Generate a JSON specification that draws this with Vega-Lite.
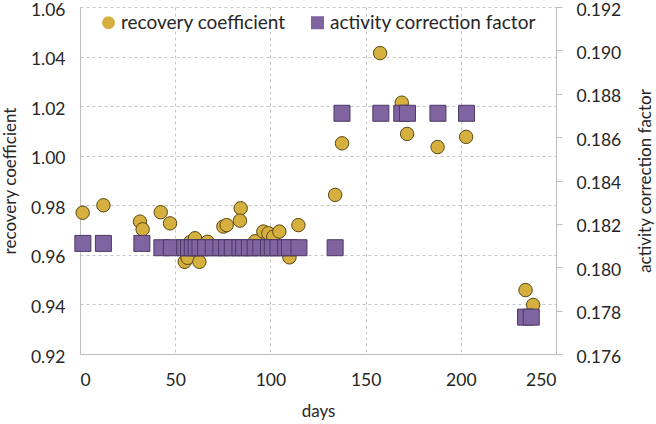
{
  "$schema": "https://vega.github.io/schema/vega-lite/v6.json",
  "width": 476,
  "height": 347,
  "autosize": "none",
  "padding": {"left": 80, "top": 7, "right": 100, "bottom": 70},
  "background": "white",
  "config": {
    "view": {"stroke": null},
    "font": "Lato",
    "axis": {
      "labelFont": "Lato",
      "titleFont": "Lato",
      "labelFontSize": 17.5,
      "titleFontSize": 17,
      "titleFontWeight": "normal",
      "labelColor": "#262626",
      "titleColor": "#262626",
      "domainColor": "#bdbdbd",
      "tickColor": "#bdbdbd",
      "gridColor": "#c4c4c4",
      "gridDash": [3, 3]
    }
  },
  "data": {
    "values": [
      {"day": 1.4, "series": "recovery coefficient", "value": 0.977},
      {"day": 12.3, "series": "recovery coefficient", "value": 0.980},
      {"day": 31.5, "series": "recovery coefficient", "value": 0.9734},
      {"day": 32.9, "series": "recovery coefficient", "value": 0.9703},
      {"day": 42.4, "series": "recovery coefficient", "value": 0.9772},
      {"day": 47.3, "series": "recovery coefficient", "value": 0.9727},
      {"day": 55.0, "series": "recovery coefficient", "value": 0.9572},
      {"day": 56.5, "series": "recovery coefficient", "value": 0.9588},
      {"day": 58.0, "series": "recovery coefficient", "value": 0.9652},
      {"day": 60.4, "series": "recovery coefficient", "value": 0.9667},
      {"day": 62.7, "series": "recovery coefficient", "value": 0.9572},
      {"day": 67.0, "series": "recovery coefficient", "value": 0.9653},
      {"day": 75.3, "series": "recovery coefficient", "value": 0.9714},
      {"day": 77.0, "series": "recovery coefficient", "value": 0.9720},
      {"day": 84.4, "series": "recovery coefficient", "value": 0.9788},
      {"day": 84.0, "series": "recovery coefficient", "value": 0.9738},
      {"day": 92.0, "series": "recovery coefficient", "value": 0.9655},
      {"day": 96.3, "series": "recovery coefficient", "value": 0.9694},
      {"day": 98.9, "series": "recovery coefficient", "value": 0.9687},
      {"day": 101.5, "series": "recovery coefficient", "value": 0.9673},
      {"day": 104.7, "series": "recovery coefficient", "value": 0.9694},
      {"day": 110.0, "series": "recovery coefficient", "value": 0.9590},
      {"day": 114.7, "series": "recovery coefficient", "value": 0.9720},
      {"day": 134.0, "series": "recovery coefficient", "value": 0.9842},
      {"day": 137.6, "series": "recovery coefficient", "value": 1.005},
      {"day": 157.6, "series": "recovery coefficient", "value": 1.0414},
      {"day": 169.0, "series": "recovery coefficient", "value": 1.0214},
      {"day": 171.8, "series": "recovery coefficient", "value": 1.0088},
      {"day": 187.8, "series": "recovery coefficient", "value": 1.0035},
      {"day": 202.8, "series": "recovery coefficient", "value": 1.0076},
      {"day": 234.0, "series": "recovery coefficient", "value": 0.9458},
      {"day": 238.0, "series": "recovery coefficient", "value": 0.9398},
      {"day": 1.5, "series": "activity correction factor", "value": 0.1811},
      {"day": 12.3, "series": "activity correction factor", "value": 0.1811},
      {"day": 32.5, "series": "activity correction factor", "value": 0.1811},
      {"day": 43, "series": "activity correction factor", "value": 0.1809},
      {"day": 48, "series": "activity correction factor", "value": 0.1809},
      {"day": 55, "series": "activity correction factor", "value": 0.1809},
      {"day": 57, "series": "activity correction factor", "value": 0.1809},
      {"day": 59, "series": "activity correction factor", "value": 0.1809},
      {"day": 61, "series": "activity correction factor", "value": 0.1809},
      {"day": 63, "series": "activity correction factor", "value": 0.1809},
      {"day": 66, "series": "activity correction factor", "value": 0.1809},
      {"day": 70, "series": "activity correction factor", "value": 0.1809},
      {"day": 74, "series": "activity correction factor", "value": 0.1809},
      {"day": 77, "series": "activity correction factor", "value": 0.1809},
      {"day": 80, "series": "activity correction factor", "value": 0.1809},
      {"day": 84, "series": "activity correction factor", "value": 0.1809},
      {"day": 86, "series": "activity correction factor", "value": 0.1809},
      {"day": 89, "series": "activity correction factor", "value": 0.1809},
      {"day": 92, "series": "activity correction factor", "value": 0.1809},
      {"day": 95, "series": "activity correction factor", "value": 0.1809},
      {"day": 99, "series": "activity correction factor", "value": 0.1809},
      {"day": 101, "series": "activity correction factor", "value": 0.1809},
      {"day": 104, "series": "activity correction factor", "value": 0.1809},
      {"day": 108, "series": "activity correction factor", "value": 0.1809},
      {"day": 110, "series": "activity correction factor", "value": 0.1809},
      {"day": 115, "series": "activity correction factor", "value": 0.1809},
      {"day": 134, "series": "activity correction factor", "value": 0.1809},
      {"day": 137.6, "series": "activity correction factor", "value": 0.1871},
      {"day": 158, "series": "activity correction factor", "value": 0.1871},
      {"day": 169, "series": "activity correction factor", "value": 0.1871},
      {"day": 172, "series": "activity correction factor", "value": 0.1871},
      {"day": 188, "series": "activity correction factor", "value": 0.1871},
      {"day": 203, "series": "activity correction factor", "value": 0.1871},
      {"day": 234, "series": "activity correction factor", "value": 0.1777},
      {"day": 237, "series": "activity correction factor", "value": 0.1777}
    ]
  },
  "encoding": {
    "x": {
      "field": "day",
      "type": "quantitative",
      "scale": {"domain": [0, 250], "nice": false},
      "axis": {
        "title": "days",
        "values": [0, 50, 100, 150, 200, 250],
        "ticks": false,
        "labelPadding": 17,
        "grid": true,
        "titleX": 238,
        "titleY": 57,
        "titleBaseline": "middle"
      }
    },
    "color": {
      "field": "series",
      "type": "nominal",
      "scale": {"domain": ["recovery coefficient", "activity correction factor"], "range": ["#d5b03e", "#8064a2"]},
      "legend": {
        "title": null,
        "orient": "none",
        "direction": "horizontal",
        "legendX": 19,
        "legendY": 6,
        "padding": 0,
        "symbolSize": 170,
        "symbolStrokeColor": "#4a3d20",
        "symbolStrokeWidth": 1,
        "labelFontSize": 19,
        "labelFont": "Lato",
        "labelColor": "#262626",
        "labelLimit": 400,
        "labelOffset": 3,
        "columnPadding": 22,
        "symbolOpacity": 1
      }
    },
    "shape": {
      "field": "series",
      "type": "nominal",
      "scale": {"domain": ["recovery coefficient", "activity correction factor"], "range": ["circle", "square"]},
      "legend": {
        "title": null,
        "orient": "none",
        "direction": "horizontal",
        "legendX": 19,
        "legendY": 6,
        "padding": 0,
        "symbolSize": 170,
        "symbolStrokeColor": "#4a3d20",
        "symbolStrokeWidth": 1,
        "labelFontSize": 19,
        "labelFont": "Lato",
        "labelColor": "#262626",
        "labelLimit": 400,
        "labelOffset": 3,
        "columnPadding": 22,
        "symbolOpacity": 1
      }
    }
  },
  "layer": [
    {
      "transform": [{"filter": "datum.series === 'recovery coefficient'"}],
      "mark": {"type": "point", "filled": true, "size": 180, "stroke": "#5a4714", "strokeWidth": 1, "opacity": 1},
      "encoding": {
        "y": {
          "field": "value",
          "type": "quantitative",
          "scale": {"domain": [0.92, 1.06], "nice": false, "zero": false},
          "axis": {
            "title": "recovery coefficient",
            "orient": "left",
            "values": [0.92, 0.94, 0.96, 0.98, 1.0, 1.02, 1.04, 1.06],
            "format": ".2f",
            "ticks": false,
            "labelPadding": 15,
            "labelOffset": 3,
            "grid": true,
            "titleX": -70,
            "titleY": 173.5,
            "titleAngle": -90,
            "titleAlign": "center",
            "titleBaseline": "middle"
          }
        }
      }
    },
    {
      "transform": [{"filter": "datum.series === 'activity correction factor'"}],
      "mark": {"type": "point", "filled": true, "size": 256, "stroke": "#4b3a63", "strokeWidth": 1, "opacity": 1},
      "encoding": {
        "y": {
          "field": "value",
          "type": "quantitative",
          "scale": {"domain": [0.176, 0.192], "nice": false, "zero": false},
          "axis": {
            "title": "activity correction factor",
            "orient": "right",
            "values": [0.176, 0.178, 0.18, 0.182, 0.184, 0.186, 0.188, 0.19, 0.192],
            "format": ".3f",
            "tickSize": 6,
            "labelPadding": 14,
            "labelOffset": 3,
            "grid": false,
            "titleX": 89,
            "titleY": 173.5,
            "titleAngle": -90,
            "titleAlign": "center",
            "titleBaseline": "middle"
          }
        }
      }
    }
  ],
  "resolve": {"scale": {"y": "independent"}}
}
